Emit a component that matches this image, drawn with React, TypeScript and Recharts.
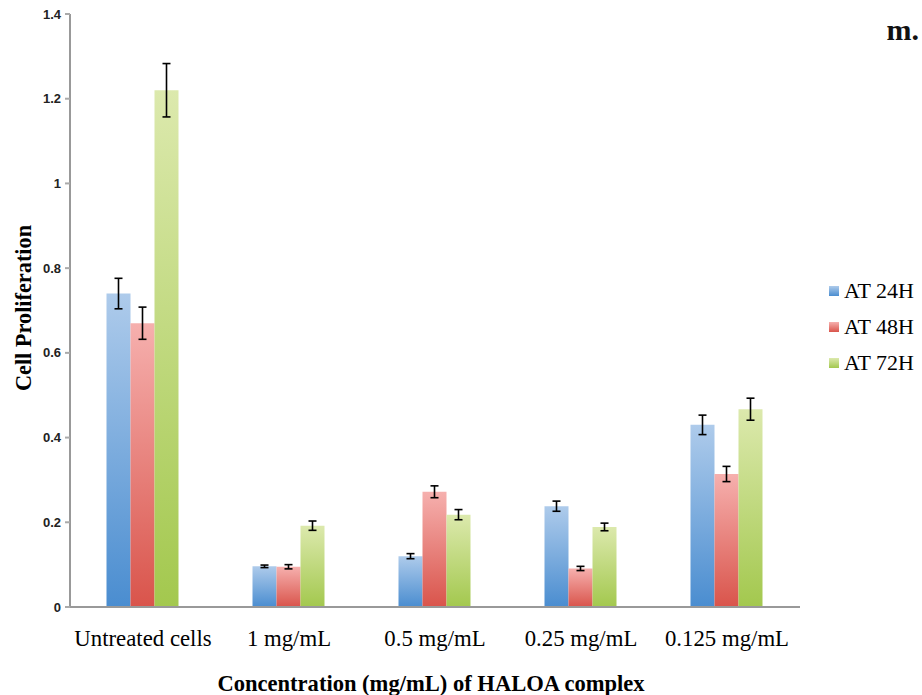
import { BarChart, Bar, XAxis, YAxis, ErrorBar } from "recharts"

// tick labels / categories
const categories = ["Untreated cells", "1 mg/mL", "0.5 mg/mL", "0.25 mg/mL", "0.125 mg/mL"]
const yTicks = [0, 0.2, 0.4, 0.6, 0.8, 1, 1.2, 1.4]

// series values
const at24 = [0.74, 0.096, 0.12, 0.238, 0.43]
const at48 = [0.67, 0.095, 0.272, 0.091, 0.314]
const at72 = [1.22, 0.192, 0.218, 0.189, 0.467]

// error bar half-heights
const err24 = [0.036, 0.003, 0.006, 0.012, 0.023]
const err48 = [0.038, 0.005, 0.014, 0.005, 0.018]
const err72 = [0.063, 0.011, 0.012, 0.009, 0.026]

const series = [
    { key: "at24", err: "err24", name: "AT 24H", top: "#aecbeb", bottom: "#4a8dd0" },
    { key: "at48", err: "err48", name: "AT 48H", top: "#f6b0ae", bottom: "#d9544b" },
    { key: "at72", err: "err72", name: "AT 72H", top: "#dce9ad", bottom: "#a3c84e" },
]

const data = categories.map((c, i) => ({
    name: c,
    at24: at24[i],
    at48: at48[i],
    at72: at72[i],
    err24: err24[i],
    err48: err48[i],
    err72: err72[i],
}))

const serif = "'Liberation Serif', 'Times New Roman', serif"

const XTick = (props: any) => {
    const { x, y, payload } = props
    return (
        <g transform={`translate(${x},${y + 31})`}>
            <text
                x={0}
                y={0}
                textAnchor="middle"
                transform="scale(0.95,1)"
                fontFamily={serif}
                fontSize={24}
                fill="#000"
            >
                {payload.value}
            </text>
        </g>
    )
}

export default function App() {
    return (
        <div style={{ position: "absolute", left: 0, top: 0, width: 922, height: 695, background: "#fff" }}>
            <BarChart
                width={922}
                height={695}
                data={data}
                margin={{ top: 14, right: 122, bottom: 58, left: 8 }}
                barCategoryGap="25%"
                barGap={0}
            >
                <defs>
                    {series.map(s => (
                        <linearGradient key={s.key} id={`g-${s.key}`} x1="0" y1="0" x2="0" y2="1">
                            <stop offset="0%" stopColor={s.top} />
                            <stop offset="100%" stopColor={s.bottom} />
                        </linearGradient>
                    ))}
                </defs>
                <XAxis
                    dataKey="name"
                    height={30}
                    axisLine={{ stroke: "#999", strokeWidth: 2 }}
                    tickLine={false}
                    tick={<XTick />}
                    interval={0}
                />
                <YAxis
                    width={62}
                    domain={[0, 1.4]}
                    ticks={yTicks}
                    axisLine={{ stroke: "#999", strokeWidth: 2 }}
                    tickLine={{ stroke: "#aaa", strokeWidth: 2 }}
                    tickSize={5}
                    tickMargin={4}
                    tick={{ fontFamily: "'Liberation Sans', Arial, sans-serif", fontSize: 13, fontWeight: "bold", fill: "#222" }}
                    tickFormatter={(v: number) => String(v)}
                />
                {series.map(s => (
                    <Bar key={s.key} dataKey={s.key} name={s.name} fill={`url(#g-${s.key})`} isAnimationActive={false}>
                        <ErrorBar dataKey={s.err} width={4} stroke="#000" strokeWidth={1.6} direction="y" />
                    </Bar>
                ))}
                <text
                    x={0}
                    y={0}
                    transform="translate(31,308) rotate(-90) scale(0.93,1)"
                    textAnchor="middle"
                    fontFamily={serif}
                    fontWeight="bold"
                    fontSize={24}
                    fill="#000"
                >
                    Cell Proliferation
                </text>
                <text
                    x={0}
                    y={0}
                    transform="translate(431,691) scale(0.94,1)"
                    textAnchor="middle"
                    fontFamily={serif}
                    fontWeight="bold"
                    fontSize={24}
                    fill="#000"
                >
                    Concentration (mg/mL) of HALOA complex
                </text>
                <text
                    x={919}
                    y={40}
                    textAnchor="end"
                    fontFamily={serif}
                    fontWeight="bold"
                    fontSize={30}
                    fill="#111"
                >
                    m.
                </text>
            </BarChart>
            <div style={{ position: "absolute", left: 829, top: 273, fontFamily: serif, fontSize: 22, color: "#000" }}>
                {series.map(s => (
                    <div key={s.key} style={{ display: "flex", alignItems: "center", height: 36 }}>
                        <span
                            style={{
                                display: "inline-block",
                                width: 10,
                                height: 10,
                                marginRight: 5,
                                background: `linear-gradient(${s.top}, ${s.bottom})`,
                            }}
                        />
                        <span>{s.name}</span>
                    </div>
                ))}
            </div>
        </div>
    )
}
